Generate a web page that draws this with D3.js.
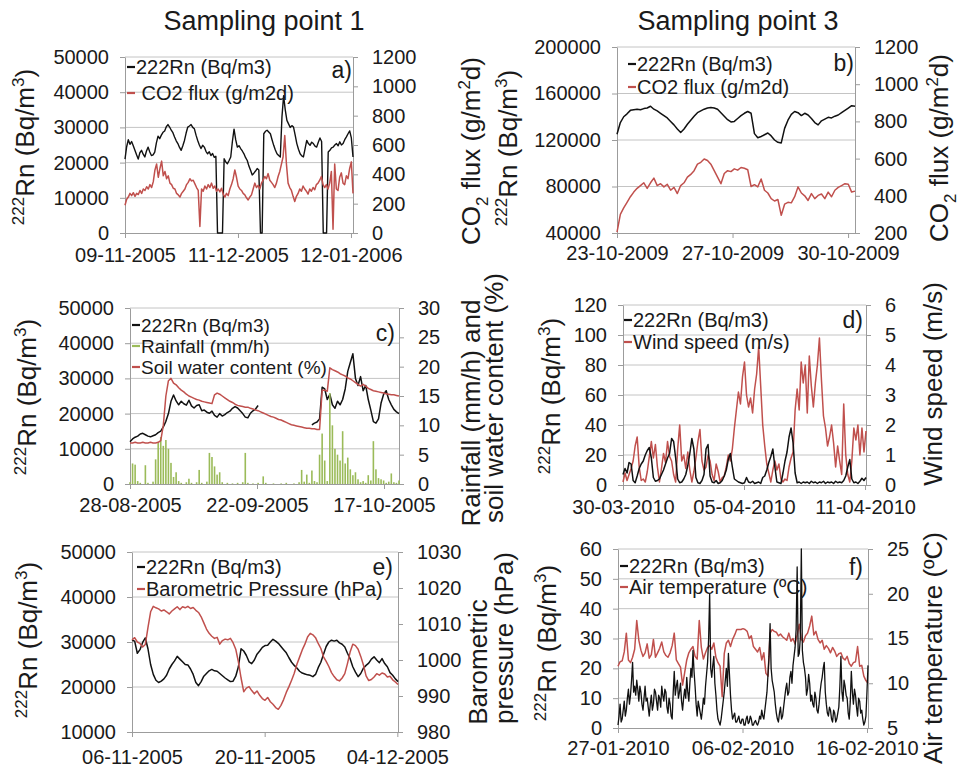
<!DOCTYPE html>
<html>
<head>
<meta charset="utf-8">
<script src="https://cdn.jsdelivr.net/npm/d3@7"></script>
<style>
  html, body { margin: 0; padding: 0; background: #fff; }
  svg { display: block; }
  text { font-family: "Liberation Sans", Arial, Helvetica, sans-serif; fill: #1a1a1a; white-space: pre; }
</style>
</head>
<body>
<script>
// ---------- Sampling point 1, panel a): 222Rn and CO2 flux ----------
const ticksA = ["09-11-2005", "11-12-2005", "12-01-2006"];
const rnA = [21000,24500,26500,25200,26000,24800,23500,22200,21000,22800,23500,22400,21600,23300,24400,23000,22000,22200,23000,25600,
  27500,26800,27800,28600,29000,30200,30800,30100,29200,28500,27300,26200,25400,24300,23500,24800,26300,28400,30100,30400,
  30800,30000,29600,27800,26300,25000,24000,24900,24400,23200,22500,23100,22000,22600,21500,21800,0,0,0,0,
  21100,20200,19700,20600,21600,26000,29500,26500,24400,24800,24000,23300,22500,21400,20600,19000,17800,16500,17000,17600,
  18300,17900,0,0,28200,28900,29200,28700,28200,26500,24900,23600,22500,22000,21600,33000,39000,35000,32000,31000,
  30000,30500,30100,27800,25400,23800,22500,21900,21600,24000,26300,25400,24900,25800,25400,24700,24400,25800,27000,26000,
  0,0,0,23000,23500,24200,24400,25000,25400,24800,25900,25000,25400,26500,27300,28200,29000,27000,21600];
const co2A = [189,230,245,270,255,275,250,270,262,290,
  270,300,290,315,300,330,310,350,430,470,
  380,440,490,390,420,370,390,340,330,305,
  300,270,260,245,270,285,300,330,345,370,
  355,360,335,310,290,45,300,285,320,300,
  330,310,340,305,320,285,300,280,305,265,
  245,270,255,300,330,370,430,380,320,300,
  290,270,260,240,225,245,260,300,340,310,
  325,300,340,360,385,370,405,360,345,330,
  310,340,385,420,470,520,665,470,340,310,
  290,250,215,250,270,300,285,320,300,285,
  265,300,285,310,295,330,340,360,385,330,
  310,330,300,340,420,25,470,300,290,380,
  410,340,330,390,370,440,485,270];

// ---------- Sampling point 3, panel b): 222Rn and CO2 flux ----------
const ticksB = ["23-10-2009", "27-10-2009", "30-10-2009"];
const rnB = [125000,135000,140000,142500,145500,146000,146500,146000,147000,147500,
  149000,146500,145000,143000,141000,139000,136000,133000,129500,126500,
  129500,133500,137000,140500,143500,145000,146500,147500,148000,147500,
  146500,143500,140500,137500,135500,136000,138500,141000,143000,144500,
  143000,125500,122000,123000,124500,126000,123500,120000,118000,117500,
  130000,137000,142000,144500,143500,141000,143000,141500,138500,135000,
  133000,136500,138000,139500,139000,140500,141500,143500,145500,147500,
  149500,149000];
const co2B = [205,300,335,365,395,420,440,455,470,440,
  470,495,455,465,448,462,430,445,412,455,
  470,500,515,535,570,580,598,590,570,535,
  500,465,520,535,530,545,538,552,548,540,
  450,460,448,490,430,415,385,372,380,295,
  355,365,362,395,448,415,400,375,412,385,
  402,410,385,420,395,430,445,455,465,462,
  420,425];

// ---------- Sampling point 1, panel c): 222Rn, rainfall, soil water ----------
const ticksC = ["28-08-2005", "22-09-2005", "17-10-2005"];
const rnC = [12000,12800,13300,13600,14200,14400,14000,13600,13400,13700,
  14000,14600,15000,16200,17800,20000,23500,25300,23600,22500,
  23500,22800,22400,23800,22200,21600,22300,22500,20800,21000,
  20400,20100,20700,19500,19000,20000,19300,19700,20300,20700,
  21500,22000,21600,20800,20000,19000,18800,20100,20800,21300,
  22300,null,null,null,null,null,null,null,null,null,
  null,null,null,null,null,null,null,null,null,null,
  null,16800,17300,17600,18500,27500,27000,24000,25500,22500,
  21500,23500,22500,24000,27000,32000,34500,37000,30000,28000,
  30500,26500,28000,24000,21000,17700,17300,18500,23000,25500,
  26500,24000,22500,21200,20500,20000];
const rainC = [0.3,3.5,3.3,0.5,0.2,0,3.2,0.2,0,0.4,
  4.2,7.0,8.0,6.5,7.5,6.0,3.6,1.2,2.0,0.5,
  0.2,0,0.3,0.9,0.2,0,0.3,2.4,0.2,0,
  0.4,5.3,4.6,3.0,1.6,2.0,0.3,0,0.2,0,
  0.1,0,0.2,0,0.3,5.3,0.2,0,0.1,0,
  0.2,0,1.3,0.2,0,0,0.1,0,0,0.1,
  0,0.2,0,0,0.1,0,0.3,2.4,0.4,1.6,
  0.2,2.3,0.5,0.3,5.0,8.6,4.0,0.5,15.5,10.0,
  6.0,5.0,4.0,9.0,3.5,4.5,2.5,1.5,2.0,0.8,
  0.3,0.5,0.2,1.5,0.6,7.3,2.5,1.0,0.8,0.6,
  0.2,0.4,1.8,0.3,0.2,0.6];
const soilC = [7.0,7.0,7.1,7.0,7.0,7.1,7.0,7.0,7.1,7.0,
  7.0,7.1,7.4,10.0,15.0,17.6,18.0,17.2,16.9,16.4,
  16.0,15.7,15.3,15.0,14.8,14.6,14.4,14.3,14.1,14.0,
  13.9,13.8,13.7,15.2,15.5,15.3,15.0,14.7,14.4,14.1,
  13.9,13.6,13.4,13.3,13.2,13.1,13.1,12.9,12.8,12.6,
  12.5,12.3,12.1,11.9,11.7,11.5,11.4,11.2,11.0,10.9,
  10.7,10.5,10.3,10.1,10.0,9.9,9.8,9.7,9.6,9.5,
  9.5,9.4,9.4,9.3,9.3,16.0,16.0,15.8,19.8,19.5,
  19.3,19.1,18.8,18.6,18.4,18.1,17.9,17.6,17.3,17.0,
  16.7,17.0,16.7,16.3,16.1,15.9,15.8,15.7,15.6,15.5,
  15.4,15.3,15.2,15.2,15.1,15.0];

// ---------- Sampling point 3, panel d): 222Rn and wind speed ----------
const ticksD = ["30-03-2010", "05-04-2010", "11-04-2010"];
const rnD = [7,11,8,15,14,3,1.5,6,11,14,
  16,20,23,25,18,5,2.5,3,4,7,
  10,14,18,21,31,29,18,4,1.5,2,
  4,7,13,21,31,24,5,1.5,1,3,
  7,24,27,6,2,1.5,3,1,1.5,3,
  6,10,17,21,12,4,3,2,1.5,1,
  1.5,5,2,1.5,2.5,1,1.5,2,1,5,
  6,10,15,19,24,12,2,1.5,1,8,
  16,22,32,38,28,8,1.5,2,1,2,
  1.5,2,1,2.5,1.5,2,1,2,1.5,2.5,
  1,2,1.5,2,1,2.5,1.5,2,1.5,3,
  6,12,17,4,1.5,2,1,2.5,4.5,3,
  5];
const windD = [0.1,0.4,0.15,0.35,0.55,0.8,1.3,1.6,0.6,0.15,
  0.2,0.1,0.45,0.95,1.45,0.9,1.35,0.6,0.1,0.55,
  1.05,0.75,1.45,0.95,0.8,0.35,0.1,1.2,2.0,0.8,
  1.0,0.55,1.1,0.5,0.1,0.45,0.9,1.45,1.85,0.8,
  0.5,0.6,1.0,0.8,0.35,0.15,0.7,0.45,0.1,0.25,
  0.3,0.6,1.0,0.8,1.2,1.9,2.5,3.1,2.7,3.6,
  4.1,3.0,2.6,2.9,2.4,3.2,3.7,4.6,3.3,2.0,
  1.3,0.7,0.4,0.1,0.5,0.8,0.5,0.7,0.2,0.1,
  0.2,0.15,0.6,0.9,1.1,2.5,3.2,2.5,4.1,3.4,
  4.0,2.4,4.3,3.3,2.6,3.4,4.0,4.9,3.5,2.3,
  1.9,1.3,1.6,2.0,1.4,0.6,1.3,0.8,0.35,2.7,
  1.0,0.35,0.1,0.8,1.9,1.5,2.0,1.0,1.9,1.1,
  1.8];

// ---------- Sampling point 1, panel e): 222Rn and barometric pressure ----------
const ticksE = ["06-11-2005", "20-11-2005", "04-12-2005"];
const rnE = [30400,30200,27500,28300,29900,30900,28500,25000,22800,21500,
  21000,21300,21800,22600,24000,25000,25800,26800,26200,25600,
  25000,24900,24000,22800,21000,20300,21200,22400,23000,23600,
  23900,23600,23500,23000,22500,22000,21600,21200,21300,22400,
  24500,28500,28000,27000,25600,25200,26000,27300,28000,28800,
  29200,29300,30000,30600,30200,29700,29000,28300,27600,26500,
  25500,24800,24200,23500,23100,22900,22700,22600,22300,22800,
  24300,25500,27300,29000,30000,30400,30200,30400,29800,29500,
  28900,27500,26300,24500,23300,22300,23000,24200,24800,25300,
  26200,26700,26000,25400,26300,25200,24500,23200,22600,21800,
  21200];
const presE = [1005.6,1006.2,1005.0,1004.6,1003.6,1004.3,1009.0,1013.4,1014.9,1014.5,
  1014.2,1013.6,1013.9,1013.4,1012.8,1013.6,1014.2,1014.8,1014.0,1014.8,
  1014.5,1014.9,1014.3,1014.6,1013.8,1013.2,1012.0,1010.3,1008.6,1007.4,
  1006.6,1006.0,1006.3,1004.4,1005.4,1005.8,1005.6,1006.0,1004.8,1003.0,
  999.5,995.0,991.2,992.2,992.6,991.5,990.6,991.4,990.2,989.3,
  988.8,989.6,988.4,987.7,986.8,986.3,987.4,989.0,991.0,992.6,
  994.4,996.3,998.8,1000.8,1002.8,1004.4,1006.4,1007.4,1007.0,1006.2,
  1004.6,1003.2,1000.9,999.6,998.2,996.5,995.4,994.5,994.2,995.0,
  996.2,999.0,1002.2,1004.4,1004.0,1003.0,1001.0,998.6,995.6,994.3,
  994.6,995.3,996.2,995.8,996.4,996.1,995.3,995.5,994.5,993.9,
  993.2];

// ---------- Sampling point 3, panel f): 222Rn and air temperature ----------
const ticksF = ["27-01-2010", "06-02-2010", "16-02-2010"];
const rnF = [1,4,8,2,3,6,9,4,6,10,13,8,11,16,22,12,14,11,16,13,
  9,14,12,8,6,10,14,9,10,7,4,8,11,6,8,13,12,9,6,11,
  10,7,14,11,9,13,12,7,5,10,8,4,3,12,19,11,14,16,10,12,
  15,9,6,10,13,10,17,12,9,15,20,17,26,19,14,8,4,9,7,5,
  3,6,10,8,14,18,22,30,45,20,17,21,24,15,11,6,3,2,1,3,
  6,9,12,16,20,14,25,18,11,6,3,4,5,2,2,3,4,2,1.5,3,
  3,1,1,3,4,1.5,2,4,3,1,1,2,2.5,1.5,1,2,4,3,6,4,
  3,6,9,12,18,24,35,20,16,14,12,8,5,3,2,5,7,3,4,7,
  10,13,15,11,12,17,19,15,21,24,27,33,54,24,25,30,60,26,22,20,
  17,11,13,18,15,9,11,8,7,12,10,6,5,8,12,15,17,20,22,12,
  8,5,4,7,6,3,2,6,5,2,3,5,7,14,24,12,9,16,14,11,
  10,5,3,9,19,12,8,13,11,7,4,10,9,5,6,3,1,2,4,12,
  21];
const tempF = [11.9,12.4,12.5,13.5,15.6,12.6,12.3,12.9,13.8,17.0,
  14.8,13.7,13.0,13.4,14.4,12.8,13.2,14.9,12.9,13.4,
  13.9,14.6,13.5,13.1,12.9,13.4,14.2,15.6,12.6,12.2,
  11.8,9.8,11.2,12.6,13.4,13.8,14.1,13.0,12.7,17.0,
  14.0,12.7,13.4,14.0,14.2,13.8,14.5,12.9,12.3,11.9,
  8.5,13.3,14.5,14.8,14.1,14.9,15.4,16.0,16.0,16.0,
  16.1,16.0,15.8,15.0,15.3,14.1,13.8,13.5,14.0,12.6,
  13.4,11.1,10.8,15.6,16.0,15.8,15.7,15.3,15.5,15.2,
  15.0,14.8,15.6,14.7,15.0,14.4,15.4,16.6,14.9,14.6,
  15.3,15.6,16.4,17.5,15.4,15.8,14.9,14.5,14.8,13.8,
  14.2,13.9,13.4,14.0,13.6,13.0,13.3,13.4,12.8,12.6,
  13.0,12.2,11.9,12.3,12.4,14.1,11.9,12.0,10.8,10.3,
  10.0];

// ---------- drawing ----------
const BLACK = "#111111", RED = "#c0504d", GREEN = "#9bbb59";
const GRID = "#c4c4c4", AXIS = "#9c9c9c";
const TICK_FONT = 20, TITLE_FONT = 26;

const svg = d3.select("body").append("svg").attr("width", 962).attr("height", 772);

const RN_TITLE = [["222", "sup"], ["Rn (Bq/m", "n"], ["3", "sup"], [")", "n"]];
const CO2_TITLE = [["CO", "n"], ["2", "sub"], [" flux (g/m", "n"], ["2", "sup"], ["d)", "n"]];

// Writes text made of normal / superscript / subscript runs.
function richText(textSel, parts, size) {
  const small = Math.round(size * 0.64);
  let shift = 0;
  parts.forEach(([s, kind]) => {
    const target = kind === "sup" ? -size * 0.4 : kind === "sub" ? size * 0.3 : 0;
    textSel.append("tspan")
      .attr("dy", target - shift)
      .style("font-size", (kind === "n" ? size : small) + "px")
      .text(s);
    shift = target;
  });
}

function verticalTitle(g, x, y, parts, size) {
  const t = g.append("text")
    .attr("transform", `translate(${x},${y}) rotate(-90)`)
    .attr("text-anchor", "middle")
    .style("font-size", size + "px");
  richText(t, parts, size);
}

function styleAxis(sel) {
  sel.select(".domain").attr("stroke", AXIS).attr("stroke-width", 1);
  sel.selectAll(".tick line").attr("stroke", AXIS).attr("stroke-width", 1);
  sel.selectAll(".tick text").style("font-size", TICK_FONT + "px").attr("fill", "#1a1a1a");
}

function drawPanel(p) {
  const g = svg.append("g");
  const x = d3.scaleLinear().domain([0, p.span]).range([p.l, p.r]);
  const yL = d3.scaleLinear().domain(p.leftDomain).range([p.b, p.t]);
  const yR = d3.scaleLinear().domain(p.rightDomain).range([p.b, p.t]);
  const leftTicks = d3.range(p.leftDomain[0], p.leftDomain[1] + p.leftStep / 2, p.leftStep);
  const rightTicks = d3.range(p.rightDomain[0], p.rightDomain[1] + p.rightStep / 2, p.rightStep);

  // horizontal gridlines at the primary-axis ticks
  g.append("g").selectAll("line").data(leftTicks.slice(1)).join("line")
    .attr("x1", p.l).attr("x2", p.r)
    .attr("y1", d => yL(d)).attr("y2", d => yL(d))
    .attr("stroke", GRID).attr("stroke-width", 1);

  // axes
  g.append("g").attr("transform", `translate(${p.l},0)`)
    .call(d3.axisLeft(yL).tickValues(leftTicks).tickSize(5).tickSizeOuter(0).tickPadding(11).tickFormat(d3.format("d")))
    .call(styleAxis);
  g.append("g").attr("transform", `translate(${p.r},0)`)
    .call(d3.axisRight(yR).tickValues(rightTicks).tickSize(5).tickSizeOuter(0).tickPadding(14).tickFormat(d3.format("d")))
    .call(styleAxis);
  g.append("g").attr("transform", `translate(0,${p.b})`)
    .call(d3.axisBottom(x).tickValues([0, 1, 2]).tickSize(5).tickSizeOuter(0).tickPadding(p.xPad)
      .tickFormat((d, i) => p.xLabels[i]))
    .call(styleAxis);

  // series
  p.series.forEach(s => {
    const y = s.axis === "L" ? yL : yR;
    const n = s.values.length;
    const tx = i => x(i * p.span / (n - 1));
    if (s.type === "bar") {
      g.append("g").selectAll("rect").data(s.values).join("rect")
        .attr("x", (d, i) => tx(i) - 0.8).attr("width", 1.6)
        .attr("y", d => y(d)).attr("height", d => y(p.rightDomain[0]) - y(d))
        .attr("fill", s.color);
    } else {
      const line = d3.line().defined(d => d !== null).x((d, i) => tx(i)).y(d => y(d));
      g.append("path").datum(s.values)
        .attr("d", line).attr("fill", "none")
        .attr("stroke", s.color).attr("stroke-width", s.width || 1.5).attr("stroke-linejoin", "round");
    }
  });

  // legend
  p.legend.items.forEach((it, k) => {
    const yy = p.legend.y[k];
    g.append("line")
      .attr("x1", p.legend.x).attr("x2", p.legend.x + 8)
      .attr("y1", yy).attr("y2", yy)
      .attr("stroke", it.color).attr("stroke-width", 2.2);
    g.append("text")
      .attr("x", p.legend.x + 9).attr("y", yy).attr("dy", "0.35em")
      .style("font-size", p.legend.font + "px")
      .text(it.label);
  });

  // panel letter
  g.append("text").attr("x", p.tag.x).attr("y", p.tag.y).attr("dy", "0.35em")
    .attr("text-anchor", "end").style("font-size", "23px").text(p.tag.text);

  // axis titles
  verticalTitle(g, p.leftTitleX, p.leftTitleY, RN_TITLE, TITLE_FONT);
  p.rightTitle.forEach(rt => verticalTitle(g, rt.x, rt.y, rt.parts, TITLE_FONT));
}

const panels = [
  { l: 125, r: 353, t: 57, b: 233, span: 2.018, xLabels: ticksA, xPad: 10,
    leftDomain: [0, 50000], leftStep: 10000, rightDomain: [0, 1200], rightStep: 200,
    series: [{ values: rnA, axis: "L", color: BLACK, width: 1.4 }, { values: co2A, axis: "R", color: RED }],
    legend: { x: 127, y: [67, 93], font: 20, items: [{ label: "222Rn (Bq/m3)", color: BLACK }, { label: "\u00a0CO2 flux (g/m2d)", color: RED }] },
    tag: { text: "a)", x: 352, y: 70 },
    leftTitleX: 34, leftTitleY: 147,
    rightTitle: [{ x: 480, y: 151, parts: CO2_TITLE }] },
  { l: 617, r: 855, t: 47, b: 233, span: 2.06, xLabels: ticksB, xPad: 8,
    leftDomain: [40000, 200000], leftStep: 40000, rightDomain: [200, 1200], rightStep: 200,
    series: [{ values: rnB, axis: "L", color: BLACK }, { values: co2B, axis: "R", color: RED }],
    legend: { x: 628, y: [64, 87], font: 20, items: [{ label: "222Rn (Bq/m3)", color: BLACK }, { label: "CO2 flux (g/m2d)", color: RED }] },
    tag: { text: "b)", x: 854, y: 63 },
    leftTitleX: 517, leftTitleY: 148,
    rightTitle: [{ x: 948, y: 148, parts: CO2_TITLE }] },
  { l: 130, r: 399, t: 308, b: 484, span: 2.118, xLabels: ticksC, xPad: 9,
    leftDomain: [0, 50000], leftStep: 10000, rightDomain: [0, 30], rightStep: 5,
    series: [{ values: rnC, axis: "L", color: BLACK }, { values: rainC, axis: "R", color: GREEN, type: "bar" },
             { values: soilC, axis: "R", color: RED }],
    legend: { x: 132, y: [325, 346, 367], font: 19, items: [{ label: "222Rn (Bq/m3)", color: BLACK },
      { label: "Rainfall (mm/h)", color: GREEN }, { label: "Soil water content (%)", color: RED }] },
    tag: { text: "c)", x: 395, y: 333 },
    leftTitleX: 36, leftTitleY: 397,
    rightTitle: [{ x: 480, y: 413, parts: [["Rainfall (mm/h) and", "n"]] },
                 { x: 503, y: 398, parts: [["soil water content (%)", "n"]] }] },
  { l: 623, r: 866, t: 305, b: 485, span: 2.008, xLabels: ticksD, xPad: 10,
    leftDomain: [0, 120], leftStep: 20, rightDomain: [0, 6], rightStep: 1,
    series: [{ values: windD, axis: "R", color: RED }, { values: rnD, axis: "L", color: BLACK }],
    legend: { x: 624, y: [320, 342], font: 20, items: [{ label: "222Rn (Bq/m3)", color: BLACK }, { label: "Wind speed (m/s)", color: RED }] },
    tag: { text: "d)", x: 863, y: 320 },
    leftTitleX: 560, leftTitleY: 396,
    rightTitle: [{ x: 942, y: 384, parts: [["Wind speed (m/s)", "n"]] }] },
  { l: 132, r: 398, t: 552, b: 732, span: 2.005, xLabels: ticksE, xPad: 13,
    leftDomain: [10000, 50000], leftStep: 10000, rightDomain: [980, 1030], rightStep: 10,
    series: [{ values: rnE, axis: "L", color: BLACK }, { values: presE, axis: "R", color: RED }],
    legend: { x: 137, y: [567, 589], font: 20, items: [{ label: "222Rn (Bq/m3)", color: BLACK }, { label: "Barometric Pressure (hPa)", color: RED }] },
    tag: { text: "e)", x: 393, y: 567 },
    leftTitleX: 37, leftTitleY: 640,
    rightTitle: [{ x: 487, y: 662, parts: [["Barometric", "n"]] },
                 { x: 513, y: 638, parts: [["pressure (hPa)", "n"]] }] },
  { l: 618, r: 868, t: 549, b: 728, span: 2.008, xLabels: ticksF, xPad: 8,
    leftDomain: [0, 60], leftStep: 10, rightDomain: [5, 25], rightStep: 5,
    series: [{ values: tempF, axis: "R", color: RED }, { values: rnF, axis: "L", color: BLACK, width: 1.3 }],
    legend: { x: 620, y: [566, 587], font: 20, items: [{ label: "222Rn (Bq/m3)", color: BLACK }, { label: "Air temperature (ºC)", color: RED }] },
    tag: { text: "f)", x: 863, y: 567 },
    leftTitleX: 556, leftTitleY: 643,
    rightTitle: [{ x: 942, y: 648, parts: [["Air temperature (ºC)", "n"]] }] }
];

panels.forEach(drawPanel);

// column headings
svg.append("text").attr("x", 264).attr("y", 30).attr("text-anchor", "middle")
  .style("font-size", "27px").text("Sampling point 1");
svg.append("text").attr("x", 738).attr("y", 30).attr("text-anchor", "middle")
  .style("font-size", "27px").text("Sampling point 3");
</script>
</body>
</html>
